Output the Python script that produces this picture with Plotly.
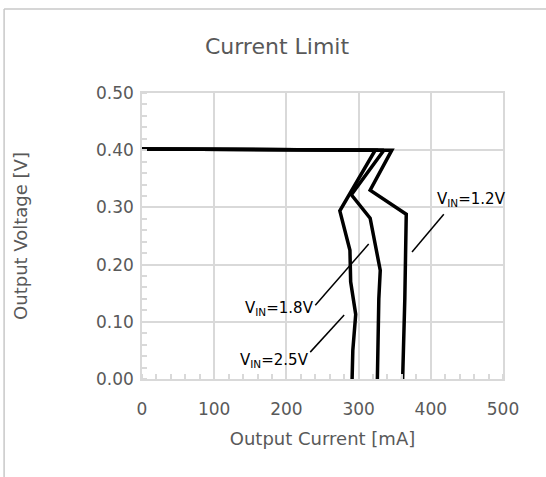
import plotly.graph_objects as go

# Output current [mA] vs output voltage [V] for each input voltage
vin_labels = ["V<sub>IN</sub>=2.5V", "V<sub>IN</sub>=1.8V", "V<sub>IN</sub>=1.2V"]

i_25 = [0, 100, 200, 300, 323, 274, 288, 289, 296, 292, 291]
v_25 = [0.402, 0.401, 0.401, 0.400, 0.400, 0.294, 0.225, 0.170, 0.113, 0.050, 0.0]

i_18 = [0, 100, 200, 300, 335, 290, 316, 330, 328, 326]
v_18 = [0.402, 0.401, 0.401, 0.400, 0.400, 0.322, 0.281, 0.190, 0.140, 0.0]

i_12 = [0, 100, 200, 300, 346, 316, 366, 364, 361]
v_12 = [0.402, 0.401, 0.401, 0.400, 0.400, 0.330, 0.288, 0.140, 0.0]

# Leader lines: (x0, y0) near the curve, (x1, y1) near the label
leader_12 = [(374, 0.222), (418, 0.288)]
leader_18 = [(314, 0.236), (240, 0.129)]
leader_25 = [(280, 0.112), (233, 0.047)]

label_pos = [(183, 0.033), (190, 0.124), (456, 0.313)]

x_ticks = [0, 100, 200, 300, 400, 500]
y_ticks = [0.0, 0.1, 0.2, 0.3, 0.4, 0.5]

TXT = "#595959"
GRID = "#d9d9d9"
FONT = "DejaVu Sans"

fig = go.Figure()
for xs, ys in [(i_25, v_25), (i_18, v_18), (i_12, v_12)]:
    fig.add_trace(go.Scatter(x=xs, y=ys, mode="lines",
                             line=dict(color="black", width=3.5),
                             showlegend=False, hoverinfo="skip"))

for (a, b) in [leader_12, leader_18, leader_25]:
    fig.add_shape(type="line", xref="x", yref="y",
                  x0=a[0], y0=a[1], x1=b[0], y1=b[1],
                  line=dict(color="black", width=1.5))

for txt, (lx, ly) in zip(vin_labels, label_pos):
    fig.add_annotation(x=lx, y=ly, xref="x", yref="y", text=txt,
                       showarrow=False, font=dict(family=FONT, size=15, color="black"))

# Outer chart frame (top and left edges)
fig.add_shape(type="line", xref="paper", yref="paper",
              x0=-0.382, y0=1.2937, x1=1.2, y1=1.2937,
              line=dict(color="#c8c8c8", width=1.5))
fig.add_shape(type="line", xref="paper", yref="paper",
              x0=-0.382, y0=1.2937, x1=-0.382, y1=-0.4,
              line=dict(color="#c8c8c8", width=1.5))

axis_common = dict(
    showgrid=True, gridcolor=GRID, gridwidth=1.5,
    showline=True, linecolor=GRID, linewidth=1.5, mirror=True,
    zeroline=False,
    ticks="", tickfont=dict(family=FONT, size=17, color=TXT),
)

fig.update_xaxes(range=[0, 500], tickvals=x_ticks,
                 ticktext=[str(v) for v in x_ticks],
                 ticklabelstandoff=14,
                 minor=dict(ticks="inside", dtick=20, ticklen=5,
                            tickcolor=GRID, tickwidth=1.5, showgrid=False),
                 title=dict(text="Output Current [mA]",
                            font=dict(family=FONT, size=18, color=TXT),
                            standoff=14),
                 **axis_common)
fig.update_yaxes(range=[0, 0.5], tickvals=y_ticks,
                 ticktext=[f"{v:.2f}" for v in y_ticks],
                 ticklabelstandoff=3,
                 minor=dict(ticks="inside", dtick=0.02, ticklen=5,
                            tickcolor=GRID, tickwidth=1.5, showgrid=False),
                 title=dict(text="Output Voltage [V]",
                            font=dict(family=FONT, size=18, color=TXT),
                            standoff=64),
                 **axis_common)

fig.update_layout(
    width=546, height=477,
    margin=dict(l=142, r=43, t=93, b=98),
    paper_bgcolor="white", plot_bgcolor="white",
    title=dict(text="Current Limit", x=277 / 546, xanchor="center",
               y=1 - 46 / 477, yanchor="middle",
               font=dict(family=FONT, size=22, color=TXT)),
)

fig.write_html("out.html")
